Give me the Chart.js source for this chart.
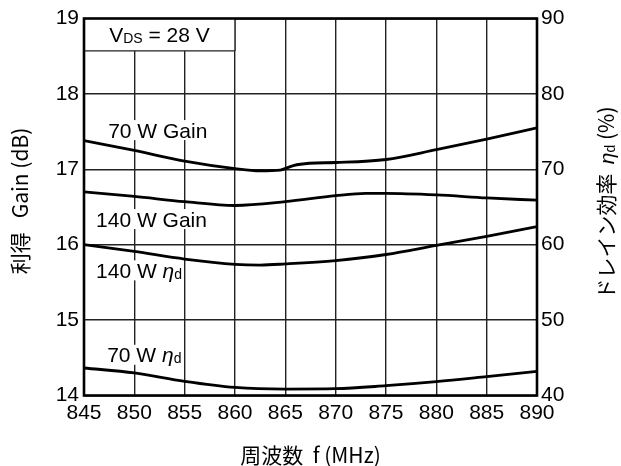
<!DOCTYPE html>
<html>
<head>
<meta charset="utf-8">
<script src="https://cdn.jsdelivr.net/npm/chart.js@4/dist/chart.umd.min.js"></script>
<style>
  html, body { margin: 0; padding: 0; background: #fff; }
  canvas { display: block; }
</style>
</head>
<body>
<canvas id="chart" width="621" height="466"></canvas>
<script>
// Frequency axis (MHz) and the two value axes
const freqTicks = [845, 850, 855, 860, 865, 870, 875, 880, 885, 890];
const gainTicks = [14, 15, 16, 17, 18, 19];
const effTicks = [40, 50, 60, 70, 80, 90];

// 70 W gain (dB)
const gain70Freq = [845, 850, 855, 860, 862.5, 864.5, 865.8, 867.4, 870, 875, 880, 885, 890];
const gain70 = [17.38, 17.25, 17.11, 17.01, 16.98, 16.99, 17.05, 17.08, 17.09, 17.13, 17.26, 17.40, 17.55];

// 140 W gain (dB)
const gain140Freq = [845, 850, 855, 860, 865, 870, 873, 875, 880, 885, 890];
const gain140 = [16.70, 16.64, 16.57, 16.52, 16.57, 16.65, 16.68, 16.68, 16.66, 16.62, 16.59];

// 140 W drain efficiency (%)
const eff140Freq = [845, 850, 855, 860, 862.5, 865, 870, 875, 880, 885, 890];
const eff140 = [60.0, 59.1, 58.1, 57.4, 57.3, 57.45, 57.9, 58.7, 59.9, 61.1, 62.4];

// 70 W drain efficiency (%)
const eff70Freq = [845, 850, 855, 860, 865, 870, 875, 880, 885, 890];
const eff70 = [43.65, 42.99, 41.87, 41.07, 40.85, 40.9, 41.3, 41.83, 42.5, 43.2];

const SANS = '"Liberation Sans", Arial, "Noto Sans CJK JP", sans-serif';
const CJK = '"Noto Sans CJK JP", "Liberation Sans", sans-serif';
const BIG = 21, SUB = 14;

function pts(xs, ys) { return xs.map((x, i) => ({ x: x, y: ys[i] })); }

// Rich text pieces: plain text, italic eta, subscript
const curveLabels = [
  { axis: 'y',  f: 847.4, v: 17.52, runs: [{ t: '70 W Gain' }] },
  { axis: 'y',  f: 846.2, v: 16.34, runs: [{ t: '140 W Gain' }] },
  { axis: 'y2', f: 846.2, v: 56.6,  runs: [{ t: '140 W ' }, { t: 'η', it: true }, { t: 'd', sub: true }] },
  { axis: 'y2', f: 847.3, v: 45.4,  runs: [{ t: '70 W ' }, { t: 'η', it: true }, { t: 'd', sub: true }] }
];
const condition = { fTo: 860, vBottom: 18.57, runs: [{ t: 'V' }, { t: 'DS', sub: true }, { t: ' = 28 V' }] };

function runFont(r, size, fam) {
  if (r.sub) return SUB + 'px ' + SANS;
  if (r.it) return 'italic ' + size + 'px ' + SANS;
  return size + 'px ' + (fam || SANS);
}
function runsWidth(ctx, runs, size, fam) {
  let w = 0;
  runs.forEach(r => { ctx.font = runFont(r, size, fam); w += ctx.measureText(r.t).width; });
  return w;
}
function drawRuns(ctx, runs, x, baseline, size, fam) {
  let cx = x;
  runs.forEach(r => {
    ctx.font = runFont(r, size, fam);
    ctx.fillText(r.t, cx, baseline + (r.sub ? 1 : 0));
    cx += ctx.measureText(r.t).width;
  });
}

const decor = {
  id: 'decor',
  beforeDatasetsDraw(chart) {
    const ctx = chart.ctx, a = chart.chartArea, sx = chart.scales.x;
    ctx.save();
    ctx.textAlign = 'left';
    ctx.textBaseline = 'alphabetic';
    // condition box in the upper-left corner
    const bx = sx.getPixelForValue(condition.fTo);
    const by = chart.scales.y.getPixelForValue(condition.vBottom);
    ctx.fillStyle = '#fff';
    ctx.fillRect(a.left, a.top, bx - a.left, by - a.top);
    ctx.strokeStyle = '#222';
    ctx.lineWidth = 1.4;
    ctx.beginPath();
    ctx.moveTo(a.left, by); ctx.lineTo(bx, by);
    ctx.moveTo(bx, a.top); ctx.lineTo(bx, by);
    ctx.stroke();
    const cw = runsWidth(ctx, condition.runs, BIG);
    ctx.fillStyle = '#000';
    drawRuns(ctx, condition.runs, (a.left + bx) / 2 - cw / 2, (a.top + by) / 2 + 0.36 * BIG, BIG);
    // curve labels on white patches
    curveLabels.forEach(l => {
      const x = sx.getPixelForValue(l.f);
      const yc = chart.scales[l.axis].getPixelForValue(l.v);
      const w = runsWidth(ctx, l.runs, BIG);
      ctx.fillStyle = '#fff';
      ctx.fillRect(x - 1, yc - 10, w + 2, 20);
      ctx.fillStyle = '#000';
      drawRuns(ctx, l.runs, x, yc + 0.36 * BIG, BIG);
    });
    ctx.restore();
  },
  afterDatasetsDraw(chart) {
    const ctx = chart.ctx, a = chart.chartArea;
    ctx.save();
    ctx.strokeStyle = '#000';
    ctx.lineWidth = 2.6;
    ctx.strokeRect(a.left, a.top, a.right - a.left, a.bottom - a.top);
    ctx.restore();
  },
  afterDraw(chart) {
    const ctx = chart.ctx, a = chart.chartArea;
    ctx.save();
    ctx.fillStyle = '#000';
    ctx.textBaseline = 'alphabetic';
    const midY = (a.top + a.bottom) / 2;
    // x title
    const xRuns = [{ t: '周波数  ' }, { t: 'f (MHz)' }];
    const xw = runsWidth(ctx, xRuns, BIG, CJK);
    drawRuns(ctx, xRuns, (a.left + a.right) / 2 - xw / 2, 455 + 0.36 * BIG, BIG, CJK);
    // left title, reading upward
    const lRuns = [{ t: '利得   Gain (dB)' }];
    const lw = runsWidth(ctx, lRuns, BIG, CJK);
    ctx.save();
    ctx.translate(20, midY - 6);
    ctx.rotate(-Math.PI / 2);
    drawRuns(ctx, lRuns, -lw / 2, 0.36 * BIG, BIG, CJK);
    ctx.restore();
    // right title, reading upward
    const rRuns = [{ t: 'ドレイン効率  ' }, { t: 'η', it: true }, { t: 'd', sub: true }, { t: ' (%)' }];
    const rw = runsWidth(ctx, rRuns, BIG, CJK);
    ctx.save();
    ctx.translate(606, midY - 4);
    ctx.rotate(-Math.PI / 2);
    drawRuns(ctx, rRuns, -rw / 2, 0.36 * BIG, BIG, CJK);
    ctx.restore();
    ctx.restore();
  }
};

const lineStyle = {
  borderColor: '#000',
  borderWidth: 2.8,
  pointRadius: 0,
  fill: false,
  cubicInterpolationMode: 'monotone'
};

const gridStyle = { color: '#222', lineWidth: 1.4, drawTicks: false };
const tickFont = { family: SANS, size: 21 };

new Chart(document.getElementById('chart'), {
  type: 'line',
  data: {
    datasets: [
      Object.assign({ label: '70 W Gain', data: pts(gain70Freq, gain70), yAxisID: 'y' }, lineStyle),
      Object.assign({ label: '140 W Gain', data: pts(gain140Freq, gain140), yAxisID: 'y' }, lineStyle),
      Object.assign({ label: '140 W ηd', data: pts(eff140Freq, eff140), yAxisID: 'y2' }, lineStyle),
      Object.assign({ label: '70 W ηd', data: pts(eff70Freq, eff70), yAxisID: 'y2' }, lineStyle)
    ]
  },
  options: {
    responsive: false,
    animation: false,
    layout: { padding: { top: 18.5, left: 0, right: 0, bottom: 0 } },
    plugins: { legend: { display: false }, tooltip: { enabled: false } },
    scales: {
      x: {
        type: 'linear',
        min: freqTicks[0],
        max: freqTicks[freqTicks.length - 1],
        afterBuildTicks: s => { s.ticks = freqTicks.map(v => ({ value: v })); },
        ticks: { font: tickFont, color: '#000', padding: 5, maxRotation: 0 },
        grid: gridStyle,
        border: { display: false },
        afterFit: s => { s.height = 70.5; }
      },
      y: {
        position: 'left',
        min: gainTicks[0],
        max: gainTicks[gainTicks.length - 1],
        afterBuildTicks: s => { s.ticks = gainTicks.map(v => ({ value: v })); },
        ticks: { font: tickFont, color: '#000', padding: 5 },
        grid: gridStyle,
        border: { display: false },
        afterFit: s => { s.width = 84; }
      },
      y2: {
        position: 'right',
        min: effTicks[0],
        max: effTicks[effTicks.length - 1],
        afterBuildTicks: s => { s.ticks = effTicks.map(v => ({ value: v })); },
        ticks: { font: tickFont, color: '#000', padding: 4 },
        grid: { drawOnChartArea: false, drawTicks: false },
        border: { display: false },
        afterFit: s => { s.width = 84; }
      }
    }
  },
  plugins: [decor]
});
</script>
</body>
</html>
